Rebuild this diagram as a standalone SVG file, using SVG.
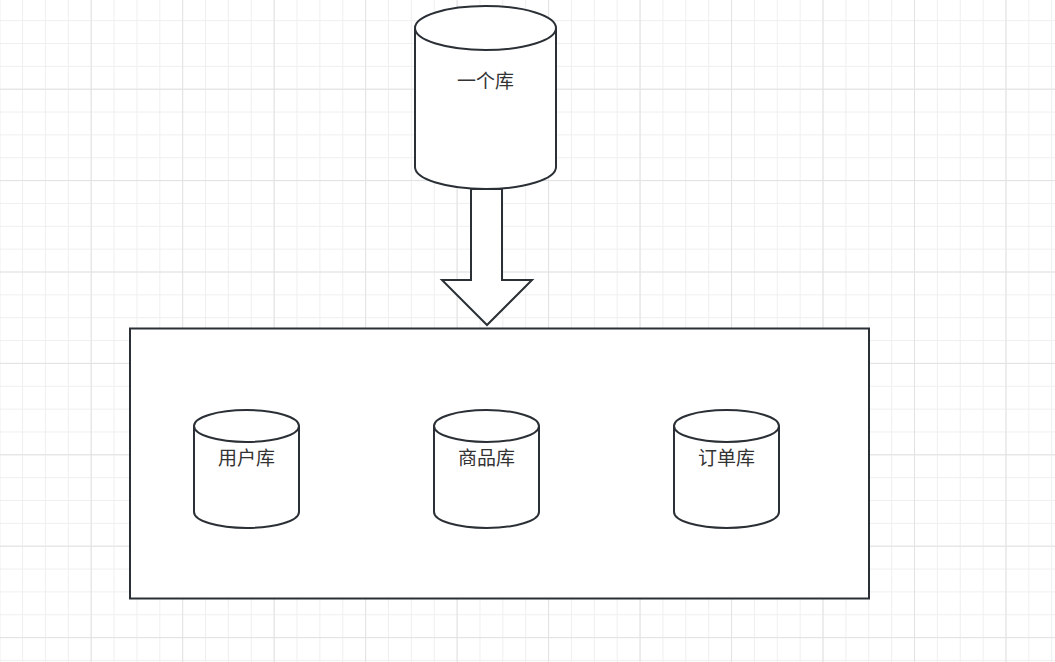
<svg xmlns="http://www.w3.org/2000/svg" width="1055" height="662" viewBox="0 0 1055 662">
<defs>
<pattern id="minor" patternUnits="userSpaceOnUse" x="-0.8" y="-2.7" width="22.87" height="22.85">
<path d="M0.5 0V22.85M0 0.5H22.87" stroke="#efefef" stroke-width="1" fill="none"/>
</pattern>
<pattern id="major" patternUnits="userSpaceOnUse" x="-0.8" y="-2.7" width="91.48" height="91.4">
<path d="M0.5 0V91.4M0 0.5H91.48" stroke="#e2e2e2" stroke-width="1" fill="none"/>
</pattern>
<style>
.s{fill:#ffffff;stroke:#2b3036;stroke-width:2}
.t{font-family:"Noto Sans CJK SC","Liberation Sans",sans-serif;fill:#333333;text-anchor:middle}
</style>
</defs>
<rect width="1055" height="662" fill="#ffffff"/>
<rect width="1055" height="662" fill="url(#minor)"/>
<rect width="1055" height="662" fill="url(#major)"/>
<g id="connectors">
<path class="s" d="M471 189V280H442L487 325L532 280H502V189Z"/>
</g>
<g id="node-onedb">
<path class="s" d="M415 28A70.5 22 0 0 1 556 28V167A70.5 22 0 0 1 415 167Z"/>
<path class="s" fill="none" d="M415 28A70.5 22 0 0 0 556 28"/>
<text class="t" x="485.5" y="88" font-size="19">一个库</text>
</g>
<g id="node-container">
<rect class="s" x="130" y="328.5" width="739" height="270"/>
</g>
<g id="node-userdb">
<path class="s" d="M194 426A52.5 16 0 0 1 299 426V512A52.5 16 0 0 1 194 512Z"/>
<path class="s" fill="none" d="M194 426A52.5 16 0 0 0 299 426"/>
<text class="t" x="246.5" y="465" font-size="19">用户库</text>
</g>
<g id="node-productdb">
<path class="s" d="M434 426A52.5 16 0 0 1 539 426V512A52.5 16 0 0 1 434 512Z"/>
<path class="s" fill="none" d="M434 426A52.5 16 0 0 0 539 426"/>
<text class="t" x="486.5" y="465" font-size="19">商品库</text>
</g>
<g id="node-orderdb">
<path class="s" d="M674 426A52.5 16 0 0 1 779 426V512A52.5 16 0 0 1 674 512Z"/>
<path class="s" fill="none" d="M674 426A52.5 16 0 0 0 779 426"/>
<text class="t" x="726.5" y="465" font-size="19">订单库</text>
</g>
</svg>
